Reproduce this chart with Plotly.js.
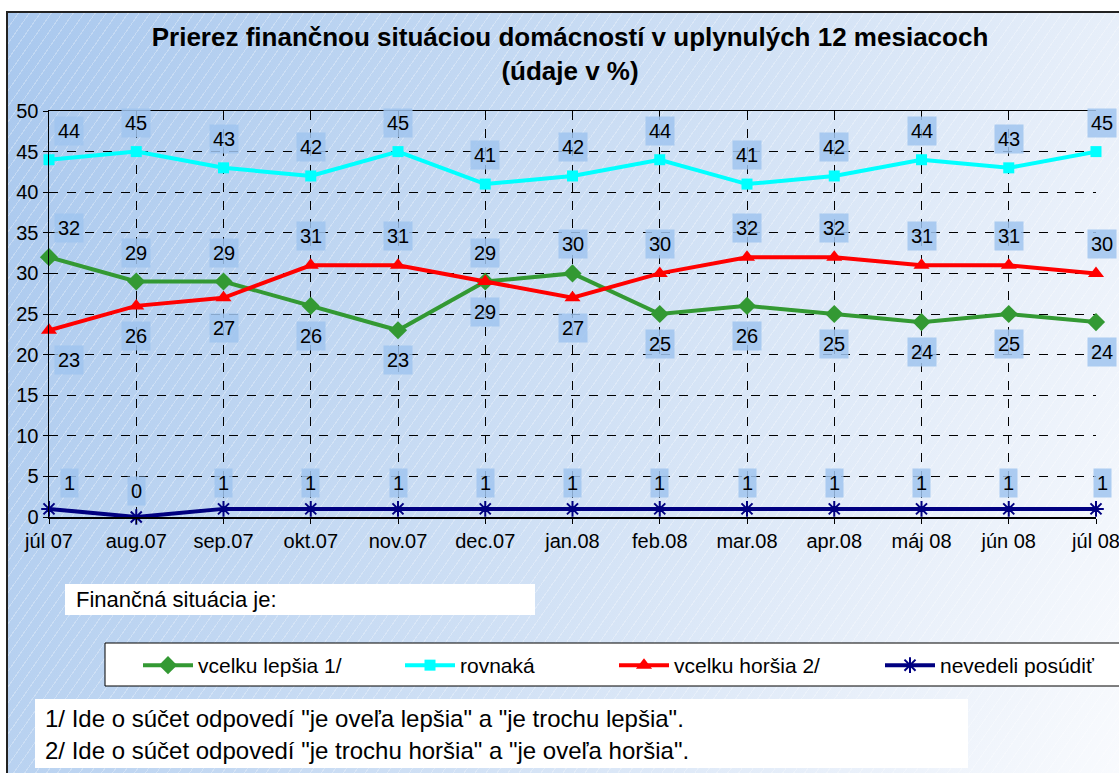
<!DOCTYPE html>
<html>
<head>
<meta charset="utf-8">
<script src="https://cdn.plot.ly/plotly-3.0.1.min.js"></script>
<style>
  body { margin: 0; }
  #wrap { position: relative; width: 1119px; height: 773px; overflow: hidden; background: #fff; }
  #bg {
    position: absolute; left: 6px; top: 11px; width: 1140px; height: 800px;
    border: 2px solid #222;
    background:
      repeating-linear-gradient(125deg, rgba(255,255,255,0) 0px, rgba(255,255,255,0) 8px, rgba(255,255,255,0.28) 8px, rgba(255,255,255,0.28) 9px),
      linear-gradient(112deg, #a9c8ee 0%, #bcd4f1 25%, #d1e1f5 52%, #e9f0fa 78%, #fbfcfe 100%);
  }
  #chart { position: absolute; left: 0; top: 0; width: 1119px; height: 773px; }
</style>
</head>
<body>
<div id="wrap"><div id="bg"></div><div id="chart"></div></div>
<script>
const months = ['júl 07','aug.07','sep.07','okt.07','nov.07','dec.07','jan.08','feb.08','mar.08','apr.08','máj 08','jún 08','júl 08'];
const lepsia   = [32, 29, 29, 26, 23, 29, 30, 25, 26, 25, 24, 25, 24];
const rovnaka  = [44, 45, 43, 42, 45, 41, 42, 44, 41, 42, 44, 43, 45];
const horsia   = [23, 26, 27, 31, 31, 29, 27, 30, 32, 32, 31, 31, 30];
const nevedeli = [1, 0, 1, 1, 1, 1, 1, 1, 1, 1, 1, 1, 1];
const seriesNames = ['vcelku lepšia 1/', 'rovnaká', 'vcelku horšia 2/', 'nevedeli posúdiť'];
const titleText = 'Prierez finančnou situáciou domácností v uplynulých 12 mesiacoch';
const subtitleText = '(údaje v %)';
const boxText = 'Finančná situácia je:';
const note1 = '1/ Ide o súčet odpovedí "je oveľa lepšia" a "je trochu lepšia".';
const note2 = '2/ Ide o súčet odpovedí "je trochu horšia" a "je oveľa horšia".';

const FONT = 'Liberation Sans, Arial, sans-serif';
const W = 1119, H = 773;
const M = {l: 49, r: 23, t: 111, b: 256};
const PW = W - M.l - M.r, PH = H - M.t - M.b;
const px2x = p => (p - M.l) / PW;
const py2y = p => (H - M.b - p) / PH;

const traces = [
  {name: seriesNames[0], legend: 'legend', x: months, y: lepsia, mode: 'lines+markers', cliponaxis: false,
   line: {color: '#339933', width: 4}, marker: {symbol: 'diamond', size: 14, color: '#339933'}},
  {name: seriesNames[1], legend: 'legend2', x: months, y: rovnaka, mode: 'lines+markers', cliponaxis: false,
   line: {color: '#00ffff', width: 4}, marker: {symbol: 'square', size: 11, color: '#00ffff'}},
  {name: seriesNames[2], legend: 'legend3', x: months, y: horsia, mode: 'lines+markers', cliponaxis: false,
   line: {color: '#ff0000', width: 4}, marker: {symbol: 'triangle-up', size: 14, color: '#ff0000'}},
  {name: seriesNames[3], legend: 'legend4', x: months, y: nevedeli, mode: 'lines+markers', cliponaxis: false,
   line: {color: '#000080', width: 4}, marker: {symbol: 'asterisk-open', size: 13, line: {color: '#000080', width: 2}}}
];

const annotations = [];
function addLabel(i, v, yshift) {
  annotations.push({
    x: months[i], y: v, xref: 'x', yref: 'y', text: String(v), showarrow: false,
    font: {family: FONT, size: 20, color: '#000'},
    bgcolor: 'rgba(160,196,238,0.85)', borderpad: 3,
    xshift: i === 0 ? 20 : (i === months.length - 1 ? 6 : 0),
    yshift: yshift
  });
}
months.forEach((m, i) => {
  addLabel(i, rovnaka[i], 29);
  addLabel(i, lepsia[i], lepsia[i] > horsia[i] ? 29 : -30);
  addLabel(i, horsia[i], horsia[i] >= lepsia[i] ? 29 : -30);
  addLabel(i, nevedeli[i], 26);
});

annotations.push(
  {xref: 'paper', yref: 'paper', x: px2x(74), y: py2y(599), xanchor: 'left', yanchor: 'middle',
   text: boxText, showarrow: false, font: {family: FONT, size: 22, color: '#000'}},
  {xref: 'paper', yref: 'paper', x: px2x(43), y: py2y(718), xanchor: 'left', yanchor: 'middle',
   text: note1, showarrow: false, font: {family: FONT, size: 24, color: '#000'}},
  {xref: 'paper', yref: 'paper', x: px2x(43), y: py2y(751), xanchor: 'left', yanchor: 'middle',
   text: note2, showarrow: false, font: {family: FONT, size: 24, color: '#000'}}
);

const shapes = [
  {type: 'rect', xref: 'paper', yref: 'paper', x0: px2x(65), x1: px2x(535), y0: py2y(584), y1: py2y(615),
   fillcolor: '#ffffff', line: {width: 0}, layer: 'below'},
  {type: 'rect', xref: 'paper', yref: 'paper', x0: px2x(105), x1: px2x(1130), y0: py2y(643), y1: py2y(686),
   fillcolor: '#ffffff', line: {width: 1, color: '#000'}, layer: 'below'},
  {type: 'rect', xref: 'paper', yref: 'paper', x0: px2x(35), x1: px2x(968), y0: py2y(699), y1: py2y(768),
   fillcolor: '#ffffff', line: {width: 0}, layer: 'below'}
];

function legendAt(px) {
  return {orientation: 'h', x: px2x(px), xanchor: 'left', y: py2y(645), yanchor: 'top',
          bgcolor: 'rgba(0,0,0,0)', borderwidth: 0,
          font: {family: FONT, size: 21, color: '#000'}, itemwidth: 50};
}

const layout = {
  width: W, height: H, autosize: false,
  margin: M,
  paper_bgcolor: 'rgba(0,0,0,0)', plot_bgcolor: 'rgba(0,0,0,0)',
  font: {family: FONT, color: '#000'},
  title: {text: '<b>' + titleText + '</b><br><b>' + subtitleText + '</b>',
          font: {family: FONT, size: 26, color: '#000'},
          x: 570 / W, xanchor: 'center', xref: 'container', y: 1 - 46 / H, yanchor: 'top', yref: 'container'},
  showlegend: true,
  legend: legendAt(138),
  legend2: legendAt(400),
  legend3: legendAt(614),
  legend4: legendAt(880),
  xaxis: {type: 'category', range: [0, months.length - 1], showline: true, linecolor: '#000', linewidth: 1.5,
          mirror: true, ticks: 'outside', ticklen: 5, tickcolor: '#000',
          showgrid: true, gridcolor: '#000', griddash: 'dash', gridwidth: 1,
          tickfont: {family: FONT, size: 20, color: '#000'}, fixedrange: true},
  yaxis: {range: [0, 50], dtick: 5, showline: true, linecolor: '#000', linewidth: 1.5,
          ticks: 'outside', ticklen: 5, tickcolor: '#000',
          showgrid: true, gridcolor: '#000', griddash: 'dash', gridwidth: 1, zeroline: false,
          tickfont: {family: FONT, size: 20, color: '#000'}, fixedrange: true},
  annotations: annotations,
  shapes: shapes
};

Plotly.newPlot('chart', traces, layout, {displayModeBar: false, staticPlot: true});
</script>
</body>
</html>
